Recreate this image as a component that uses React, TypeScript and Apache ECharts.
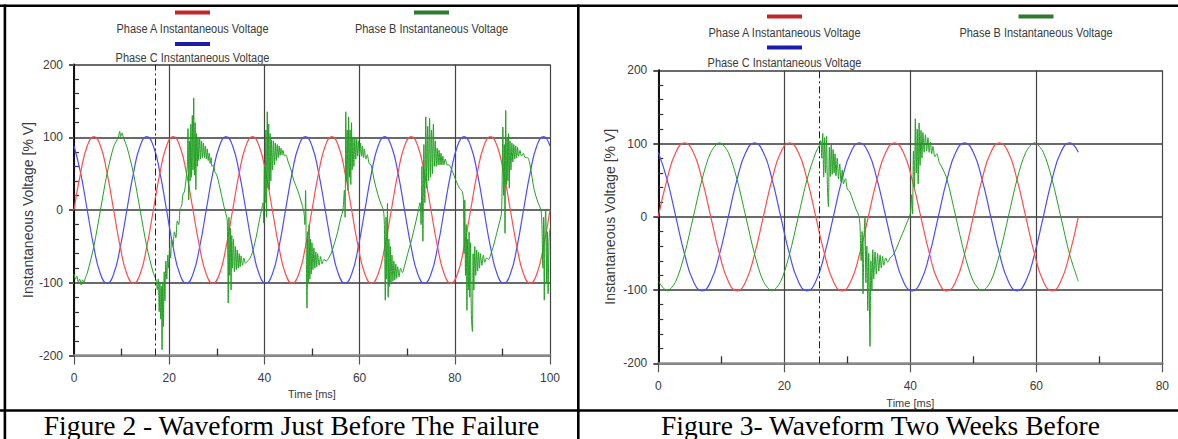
import React, { useEffect, useRef } from 'react';
import * as echarts from 'echarts';

// ---------- data ----------
const legendNames = ['Phase A Instantaneous Voltage', 'Phase B Instantaneous Voltage', 'Phase C Instantaneous Voltage'];
const captions = ['Figure 2 - Waveform Just Before The Failure', 'Figure 3- Waveform Two Weeks Before'];
const xAxisTitle = 'Time [ms]';
const yAxisTitle = 'Instantaneous Voltage [% V]';
const faultMarkLeft = 17.1;
const faultMarkRight = 25.6;

const sampleTimesLeft = [
  0, 1.39, 2.78, 4.17, 5.56, 6.94, 8.33, 9.72, 11.11, 12.5, 13.89, 15.28,
  16.67, 18.06, 19.44, 20.83, 22.22, 23.61, 25, 26.39, 27.78, 29.17, 30.56, 31.94,
  33.33, 34.72, 36.11, 37.5, 38.89, 40.28, 41.67, 43.06, 44.44, 45.83, 47.22, 48.61,
  50, 51.39, 52.78, 54.17, 55.56, 56.94, 58.33, 59.72, 61.11, 62.5, 63.89, 65.28,
  66.67, 68.06, 69.44, 70.83, 72.22, 73.61, 75, 76.39, 77.78, 79.17, 80.56, 81.94,
  83.33, 84.72, 86.11, 87.5, 88.89, 90.28, 91.67, 93.06, 94.44, 95.83, 97.22, 98.61,
  100,
];
const phaseALeft = [
  0, 51, 88, 101, 88, 51, 0, -51, -88, -101, -88, -51,
  0, 51, 88, 101, 88, 51, 0, -51, -88, -101, -88, -51,
  0, 51, 88, 101, 88, 51, 0, -51, -88, -101, -88, -51,
  0, 51, 88, 101, 88, 51, 0, -51, -88, -101, -88, -51,
  0, 51, 88, 101, 88, 51, 0, -51, -88, -101, -88, -51,
  0, 51, 88, 101, 88, 51, 0, -51, -88, -101, -88, -51,
  0,
];
const phaseCLeft = [
  88, 51, 0, -51, -88, -101, -88, -51, 0, 51, 88, 101,
  88, 51, 0, -51, -88, -101, -88, -51, 0, 51, 88, 101,
  88, 51, 0, -51, -88, -101, -88, -51, 0, 51, 88, 101,
  88, 51, 0, -51, -88, -101, -88, -51, 0, 51, 88, 101,
  88, 51, 0, -51, -88, -101, -88, -51, 0, 51, 88, 101,
  88, 51, 0, -51, -88, -101, -88, -51, 0, 51, 88, 101,
  88,
];
const phaseBLeft: [number, number][] = [
  [0, -88], [0.3, -95], [0.6, -91], [0.9, -99], [1.2, -95], [1.5, -103], [1.8, -96], [2.1, -99], [2.4, -93],
  [2.78, -87], [4.17, -50], [5.56, 0], [6.94, 50], [8.33, 87], [9.3, 100], [9.6, 108], [9.8, 101], [10.1, 106],
  [10.4, 99], [11.11, 87], [12.5, 50], [13.89, 0], [15.28, -50], [16.67, -87],
  [17.0, -92], [17.3, -98], [17.5, -110], [17.7, -95], [17.9, -140], [18.05, -100], [18.2, -150], [18.35, -105],
  [18.5, -192], [18.65, -100], [18.8, -160], [18.95, -85], [19.1, -125], [19.3, -70], [19.5, -95], [19.7, -62],
  [19.9, -80], [20.1, -52], [20.3, -66], [20.5, -40], [20.8, -50], [21.1, -30], [21.4, -38], [21.7, -15],
  [22.0, -20], [22.3, 2], [22.6, 5], [22.9, 22], [23.2, 25], [23.5, 40],
  [23.8, 60], [23.95, 112], [24.1, 14], [24.25, 95], [24.4, 40], [24.55, 118], [24.7, 45], [24.85, 130],
  [25.0, 55], [25.15, 154], [25.3, 48], [25.45, 120], [25.6, 28], [25.75, 105], [25.9, 60], [26.05, 100], [26.2, 68],
  [26.4, 98], [26.6, 70], [26.8, 95], [27.0, 72], [27.2, 92], [27.4, 72], [27.6, 88], [27.8, 70], [28.0, 84],
  [28.2, 68], [28.4, 78], [28.6, 64], [28.8, 72], [29.0, 60], [29.3, 62], [29.6, 52], [30.0, 48], [30.5, 35],
  [31.0, 20], [31.5, 5], [31.9, -5],
  [32.2, -15], [32.4, -128], [32.55, -10], [32.7, -90], [32.85, -25], [33.0, -110], [33.15, -35], [33.3, -80],
  [33.5, -40], [33.7, -85], [33.9, -50], [34.1, -82], [34.3, -55], [34.5, -80], [34.7, -60], [34.9, -78],
  [35.1, -63], [35.4, -76], [35.7, -66], [36.0, -73], [36.5, -70], [37.0, -66], [37.5, -58], [38.0, -45],
  [38.5, -30], [39.0, -12], [39.4, 0],
  [39.7, 10], [39.85, -18], [40.0, 60], [40.15, 10], [40.3, 110], [40.45, -10], [40.6, 135], [40.75, 30],
  [40.9, 118], [41.05, 28], [41.2, 105], [41.35, 40], [41.5, 96], [41.7, 55],
  [41.9, 95], [42.1, 62], [42.3, 92], [42.5, 68], [42.7, 90], [42.9, 72], [43.1, 88], [43.3, 75], [43.5, 85],
  [43.7, 76], [43.9, 82], [44.2, 74], [44.5, 76], [45.0, 66], [45.6, 55], [46.2, 40], [47.0, 27], [47.7, 12], [48.3, -3],
  [48.5, -20], [48.65, 27], [48.8, -60], [48.95, -135], [49.1, -30], [49.25, -100], [49.4, -20], [49.55, -95],
  [49.7, -40], [49.85, -88], [50.0, -45], [50.2, -82], [50.4, -52], [50.6, -80], [50.8, -58], [51.0, -78],
  [51.2, -60], [51.5, -76], [51.8, -64], [52.1, -74], [52.5, -68], [53.0, -70], [53.5, -66], [54.0, -60],
  [54.7, -46], [55.4, -30], [56.0, -12], [56.5, 0],
  [56.8, 27], [56.95, -10], [57.1, 135], [57.25, 40], [57.4, 110], [57.55, 27], [57.7, 128], [57.85, 45],
  [58.0, 110], [58.15, 35], [58.3, 120], [58.45, 55], [58.6, 100], [58.8, 60], [59.0, 100], [59.2, 70],
  [59.4, 98], [59.6, 74], [59.8, 95], [60.0, 76], [60.2, 92], [60.4, 74], [60.6, 88], [60.8, 72], [61.0, 84],
  [61.3, 70], [61.6, 76], [62.0, 64], [62.4, 62], [63.1, 40], [63.8, 22], [64.5, 8], [65.0, 0],
  [65.2, -20], [65.4, -124], [65.55, -10], [65.7, -95], [65.85, 9], [66.0, -120], [66.15, -40], [66.3, -105],
  [66.45, -50], [66.6, -100], [66.8, -62], [67.0, -98], [67.2, -70], [67.4, -96], [67.6, -74], [67.8, -94],
  [68.0, -78], [68.3, -92], [68.6, -80], [69.0, -86], [69.4, -78], [70.1, -60], [70.8, -44], [71.5, -25], [72.2, -5],
  [72.7, 10], [72.9, -20], [73.1, 60], [73.3, -43], [73.5, 90], [73.7, 10], [73.9, 128], [74.1, 30], [74.3, 115],
  [74.5, 40], [74.7, 126], [74.9, 45], [75.1, 110], [75.3, 50], [75.5, 118], [75.7, 60], [75.9, 95], [76.1, 60],
  [76.3, 85], [76.5, 62], [76.7, 82], [76.9, 62], [77.1, 78], [77.3, 62], [77.5, 74], [77.7, 62], [78.0, 70],
  [78.4, 62], [78.8, 62], [79.3, 56], [79.8, 48], [80.4, 38], [81.0, 30], [81.6, 25],
  [81.8, 14], [81.95, -60], [82.1, 14], [82.25, -90], [82.4, -20], [82.55, -138], [82.7, -40], [82.85, -110],
  [83.0, -30], [83.15, -120], [83.3, -45], [83.5, -150], [83.7, -167], [83.85, -60], [84.0, -110], [84.2, -50],
  [84.4, -90], [84.6, -55], [84.8, -84], [85.0, -58], [85.2, -80], [85.4, -60], [85.7, -76], [86.0, -62],
  [86.3, -72], [86.7, -66], [87.1, -68], [87.5, -62], [88.1, -50], [88.8, -32], [89.5, -14],
  [89.8, -5], [89.95, 40], [90.1, 114], [90.25, 20], [90.4, 90], [90.55, -32], [90.7, 137], [90.85, 35],
  [91.0, 100], [91.15, 40], [91.3, 105], [91.45, 30], [91.6, 95], [91.8, 55],
  [92.0, 92], [92.2, 66], [92.4, 90], [92.6, 70], [92.8, 88], [93.0, 72], [93.2, 86], [93.4, 74], [93.7, 82],
  [94.0, 74], [94.4, 78], [94.8, 72], [95.3, 72], [95.8, 62], [96.7, 27], [97.5, 10], [98.1, 0],
  [98.3, -20], [98.5, -80], [98.65, -10], [98.8, -124], [98.95, -20], [99.1, 0], [99.3, -100], [99.45, -30],
  [99.6, -115], [99.8, -40], [100, -25],
];

const sampleTimesRight = [
  0, 1.39, 2.78, 4.17, 5.56, 6.94, 8.33, 9.72, 11.11, 12.5, 13.89, 15.28,
  16.67, 18.06, 19.44, 20.83, 22.22, 23.61, 25, 26.39, 27.78, 29.17, 30.56, 31.94,
  33.33, 34.72, 36.11, 37.5, 38.89, 40.28, 41.67, 43.06, 44.44, 45.83, 47.22, 48.61,
  50, 51.39, 52.78, 54.17, 55.56, 56.94, 58.33, 59.72, 61.11, 62.5, 63.89, 65.28,
  66.67,
];
const phaseARight = [
  0, 51, 88, 101, 88, 51, 0, -51, -88, -101, -88, -51,
  0, 51, 88, 101, 88, 51, 0, -51, -88, -101, -88, -51,
  0, 51, 88, 101, 88, 51, 0, -51, -88, -101, -88, -51,
  0, 51, 88, 101, 88, 51, 0, -51, -88, -101, -88, -51,
  0,
];
const phaseCRight = [
  88, 51, 0, -51, -88, -101, -88, -51, 0, 51, 88, 101,
  88, 51, 0, -51, -88, -101, -88, -51, 0, 51, 88, 101,
  88, 51, 0, -51, -88, -101, -88, -51, 0, 51, 88, 101,
  88, 51, 0, -51, -88, -101, -88, -51, 0, 51, 88, 101,
  88,
];
const phaseBRight: [number, number][] = [
  [0, -88], [1.39, -101], [2.78, -88], [4.17, -51], [5.56, 0], [6.94, 51], [8.33, 88], [9.72, 101], [11.11, 88],
  [12.5, 51], [13.89, 0], [15.28, -51], [16.67, -88], [18.06, -101], [19.44, -88], [20.83, -51], [22.22, 0],
  [23.61, 51], [25.0, 88], [25.6, 98],
  [25.8, 104], [25.95, 80], [26.1, 114], [26.25, 54], [26.4, 108], [26.55, 60], [26.7, 110], [26.85, 40],
  [27.0, 14], [27.15, 95], [27.3, 55], [27.45, 98], [27.6, 58], [27.75, 92], [27.9, 60], [28.05, 86], [28.2, 56],
  [28.4, 80], [28.6, 52], [28.8, 72], [29.0, 48], [29.2, 64], [29.4, 45], [29.7, 52], [30.0, 38], [30.4, 34],
  [30.9, 22], [31.4, 10], [31.8, 2],
  [32.0, -10], [32.2, -60], [32.35, -20], [32.5, -105], [32.65, -30], [32.8, -2], [32.95, -90], [33.1, -40],
  [33.25, -128], [33.4, -50], [33.6, -177], [33.75, -60], [33.9, -100], [34.05, -45], [34.2, -85], [34.4, -48],
  [34.6, -78], [34.8, -50], [35.0, -74], [35.2, -52], [35.4, -70], [35.6, -54], [35.8, -66], [36.1, -56],
  [36.4, -62], [36.8, -56], [37.3, -52], [37.9, -41], [38.5, -28], [39.0, -18], [39.6, -5], [40.0, 4],
  [40.2, 30], [40.35, 4], [40.5, 90], [40.65, 40], [40.8, 134], [40.95, 60], [41.1, 120], [41.25, 45],
  [41.4, 128], [41.55, 70], [41.7, 118], [41.85, 80], [42.0, 115], [42.2, 88], [42.4, 112], [42.6, 90],
  [42.8, 108], [43.0, 88], [43.2, 102], [43.4, 86], [43.6, 96], [43.9, 82], [44.2, 86], [44.6, 74], [45.0, 68],
  [45.83, 51], [47.22, 0], [48.61, -51], [50, -88], [51.39, -101], [52.78, -88], [54.17, -51], [55.56, 0],
  [56.94, 51], [58.33, 88], [59.72, 101], [61.11, 88], [62.5, 51], [63.89, 0], [65.28, -51], [66.67, -88],
];

// ---------- styling ----------
const RED = '#ff4c4c';
const GREEN = '#22a022';
const BLUE = '#4c4cff';
const RED_KEY = '#c4262b';
const GREEN_KEY = '#2d7a30';
const BLUE_KEY = '#1c1ca8';
const FONT = '"Liberation Sans", Arial, sans-serif';
const SERIF = '"Liberation Serif", "Times New Roman", serif';
const TXT = '#3a3a3a';

function pairs(ts: number[], vs: number[]) {
  return ts.map((t, i) => [t, vs[i]]);
}

function xAxes(gi: number, max: number, labelMargin: number, nameGap: number) {
  const base = { gridIndex: gi, type: 'value', min: 0, max, interval: 20, position: 'bottom' };
  return [
    {
      ...base,
      axisLine: { show: true, onZero: false, lineStyle: { color: '#8c8c8c', width: 2.5 } },
      axisTick: { show: true, inside: false, length: 9, lineStyle: { color: '#555', width: 1.2 } },
      minorTick: { show: false },
      axisLabel: { show: true, color: TXT, fontSize: 12, fontFamily: FONT, margin: labelMargin },
      splitLine: { show: true, lineStyle: { color: '#444', width: 1.2 } },
      name: xAxisTitle,
      nameLocation: 'middle',
      nameGap,
      nameTextStyle: { color: TXT, fontSize: 11, fontFamily: FONT },
    },
    {
      ...base,
      axisLine: { show: false, onZero: false },
      axisTick: { show: false, inside: true },
      axisLabel: { show: false },
      splitLine: { show: false },
      minorTick: { show: true, splitNumber: 2, length: 7, lineStyle: { color: '#333', width: 1.3 } },
    },
  ];
}

function yAxes(gi: number, labelMargin: number, nameGap: number) {
  const base = { gridIndex: gi, type: 'value', min: -200, max: 200, interval: 100, position: 'left' };
  return [
    {
      ...base,
      axisLine: { show: true, onZero: false, lineStyle: { color: '#111', width: 2 } },
      axisTick: { show: true, inside: false, length: 5, lineStyle: { color: '#555', width: 2 } },
      minorTick: { show: false },
      axisLabel: { show: true, color: TXT, fontSize: 12, fontFamily: FONT, margin: labelMargin },
      splitLine: { show: true, lineStyle: { color: '#6a6a6a', width: 2 } },
      name: yAxisTitle,
      nameLocation: 'middle',
      nameGap,
      nameTextStyle: { color: TXT, fontSize: 14, fontFamily: FONT },
    },
    {
      ...base,
      axisLine: { show: false, onZero: false },
      axisTick: { show: false, inside: true },
      axisLabel: { show: false },
      splitLine: { show: false },
      minorTick: { show: true, splitNumber: 5, length: 5, lineStyle: { color: '#333', width: 1.2 } },
    },
  ];
}

function line(name: string, data: any[], color: string, axisIndex: number, smooth: number, width: number, mark?: number) {
  const s: any = {
    type: 'line',
    name,
    data,
    xAxisIndex: axisIndex,
    yAxisIndex: axisIndex,
    showSymbol: false,
    symbol: 'none',
    smooth,
    silent: true,
    lineStyle: { color, width },
    itemStyle: { color },
  };
  if (mark !== undefined) {
    s.markLine = {
      silent: true,
      symbol: ['none', 'none'],
      label: { show: false },
      lineStyle: { color: '#222', width: 1, type: [7, 3, 2, 3] },
      data: [{ xAxis: mark }],
    };
  }
  return s;
}

function legendBlock(centers: [number, number], rows: [number, number, number, number]) {
  const [cx1, cx2] = centers;
  const [sw1, tx1, sw2, tx2] = rows;
  const txt = (x: number, y: number, text: string) => ({
    type: 'text',
    x,
    y,
    scaleY: 1.12,
    silent: true,
    style: {
      text,
      fill: TXT,
      fontSize: 11,
      fontFamily: FONT,
      align: 'center',
      verticalAlign: 'middle',
      textAlign: 'center',
      textVerticalAlign: 'middle',
    },
  });
  const sw = (x: number, y: number, fill: string) => ({
    type: 'rect',
    silent: true,
    shape: { x: x - 17.5, y: y - 2, width: 35, height: 4 },
    style: { fill },
  });
  return [
    sw(cx1, sw1, RED_KEY),
    txt(cx1, tx1, legendNames[0]),
    sw(cx2, sw1, GREEN_KEY),
    txt(cx2, tx1, legendNames[1]),
    sw(cx1, sw2, BLUE_KEY),
    txt(cx1, tx2, legendNames[2]),
  ];
}

function buildOption() {
  const border = (x: number, y: number, w: number, h: number) => ({
    type: 'rect',
    silent: true,
    z: 100,
    shape: { x, y, width: w, height: h },
    style: { fill: '#000' },
  });
  const caption = (x: number, text: string) => ({
    type: 'text',
    x,
    y: 425,
    silent: true,
    style: {
      text,
      fill: '#000',
      fontSize: 27.5,
      fontFamily: SERIF,
      align: 'center',
      verticalAlign: 'middle',
      textAlign: 'center',
      textVerticalAlign: 'middle',
    },
  });
  return {
    animation: false,
    backgroundColor: '#ffffff',
    textStyle: { fontFamily: FONT },
    grid: [
      { left: 74, top: 64.5, width: 476, height: 291, containLabel: false, outerBoundsMode: 'none' },
      { left: 658.3, top: 70.3, width: 504, height: 293, containLabel: false, outerBoundsMode: 'none' },
    ],
    xAxis: [...xAxes(0, 100, 16, 30.5), ...xAxes(1, 80, 17, 30)],
    yAxis: [...yAxes(0, 11, 38), ...yAxes(1, 11, 41)],
    series: [
      line(legendNames[2], pairs(sampleTimesLeft, phaseCLeft), BLUE, 0, 0.5, 1.2),
      line(legendNames[0], pairs(sampleTimesLeft, phaseALeft), RED, 0, 0.5, 1.2, faultMarkLeft),
      line(legendNames[1], phaseBLeft, GREEN, 0, 0.3, 1),
      line(legendNames[2], pairs(sampleTimesRight, phaseCRight), BLUE, 2, 0.5, 1.2),
      line(legendNames[0], pairs(sampleTimesRight, phaseARight), RED, 2, 0.5, 1.2, faultMarkRight),
      line(legendNames[1], phaseBRight, GREEN, 2, 0.3, 1),
    ],
    graphic: [
      border(0, 4.5, 1178, 2.6),
      border(3.6, 4.5, 2.6, 435),
      border(577, 4.5, 2.6, 435),
      border(0, 409.3, 1178, 2.4),
      ...legendBlock([192.5, 431.5], [12.5, 28, 44, 57]),
      ...legendBlock([784.5, 1036], [16.5, 32.5, 47.5, 62]),
      caption(291.5, captions[0]),
      caption(880.5, captions[1]),
    ],
  };
}

export default function App() {
  const ref = useRef<HTMLDivElement>(null);
  useEffect(() => {
    if (!ref.current) return;
    const chart = echarts.init(ref.current, undefined, { renderer: 'svg' });
    chart.setOption(buildOption() as any);
    return () => chart.dispose();
  }, []);
  return (
    <div
      ref={ref}
      style={{ position: 'fixed', left: 0, top: 0, width: 1178, height: 439, background: '#fff' }}
    />
  );
}
